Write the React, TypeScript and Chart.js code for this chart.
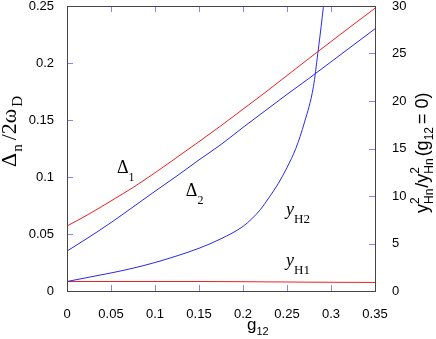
import { useEffect, useRef } from 'react';
import { Chart, registerables } from 'chart.js';

Chart.register(...registerables);

// g12 grid for the gap curves
const gGrid = [0, 0.025, 0.05, 0.075, 0.1, 0.125, 0.15, 0.175, 0.2, 0.225, 0.25, 0.275, 0.3, 0.325, 0.35];
// Δ1 / 2ωD (left axis)
const delta1 = [0.057, 0.0675, 0.079, 0.0908, 0.1037, 0.1173, 0.131, 0.145, 0.1595, 0.174, 0.189, 0.204, 0.2188, 0.2335, 0.248];
// Δ2 / 2ωD (left axis)
const delta2 = [0.035, 0.0472, 0.06, 0.0737, 0.0875, 0.101, 0.115, 0.1285, 0.1435, 0.158, 0.1725, 0.1865, 0.201, 0.2155, 0.23];
// y_H1 ratio (right axis)
const yH1 = [1.0, 1.0, 1.0, 1.0, 1.0, 1.0, 1.0, 0.99, 0.98, 0.96, 0.95, 0.93, 0.92, 0.91, 0.9];
// y_H2 ratio (right axis), denser grid near divergence
const gH2 = [0, 0.025, 0.05, 0.075, 0.1, 0.125, 0.15, 0.175, 0.2, 0.21, 0.22, 0.23, 0.24, 0.25, 0.26, 0.27, 0.28, 0.285, 0.29, 0.295];
const yH2 = [1.0, 1.45, 1.9, 2.4, 3.0, 3.7, 4.5, 5.5, 6.8, 7.6, 8.6, 9.9, 11.3, 13.0, 15.0, 17.8, 21.5, 25.0, 28.8, 33.0];

// axis ranges / ticks
const xMin = 0, xMax = 0.35, xStep = 0.05;
const yLeftMax = 0.25, yLeftStep = 0.05;
const yRightMax = 30, yRightStep = 5;

const RED = '#ee2020';
const BLUE = '#2828ee';
const SERIF = '"Liberation Serif", "DejaVu Serif", serif';
const SANS = '"Liberation Sans", Arial, sans-serif';

type Part = { text: string; font: string; dy?: number; gap?: number };

function drawRich(ctx: CanvasRenderingContext2D, x: number, y: number, rot: number, parts: Part[]) {
  ctx.save();
  ctx.translate(x, y);
  ctx.rotate(rot);
  ctx.fillStyle = '#000';
  ctx.textAlign = 'left';
  ctx.textBaseline = 'alphabetic';
  let cx = 0;
  for (const p of parts) {
    ctx.font = p.font;
    ctx.fillText(p.text, cx, p.dy || 0);
    cx += ctx.measureText(p.text).width + (p.gap || 0);
  }
  ctx.restore();
}

const decorPlugin = {
  id: 'decor',
  afterDraw(chart: any) {
    const ctx: CanvasRenderingContext2D = chart.ctx;
    const { left, right, top, bottom } = chart.chartArea;
    const xs = chart.scales.x, yl = chart.scales.y, yr = chart.scales.y2;
    ctx.save();
    // inward ticks
    ctx.strokeStyle = 'rgba(110,110,240,0.85)';
    ctx.lineWidth = 1;
    ctx.beginPath();
    const tl = 6;
    for (let v = xStep; v < xMax - 1e-9; v += xStep) {
      const px = Math.round(xs.getPixelForValue(v)) + 0.5;
      ctx.moveTo(px, bottom); ctx.lineTo(px, bottom - tl);
      ctx.moveTo(px, top); ctx.lineTo(px, top + tl);
    }
    for (let v = yLeftStep; v < yLeftMax - 1e-9; v += yLeftStep) {
      const py = Math.round(yl.getPixelForValue(v)) + 0.5;
      ctx.moveTo(left, py); ctx.lineTo(left + tl, py);
    }
    for (let v = yRightStep; v < yRightMax - 1e-9; v += yRightStep) {
      const py = Math.round(yr.getPixelForValue(v)) + 0.5;
      ctx.moveTo(right, py); ctx.lineTo(right - tl, py);
    }
    ctx.stroke();
    // frame
    ctx.strokeStyle = '#444';
    ctx.strokeRect(Math.round(left) + 0.5, Math.round(top) + 0.5, Math.round(right - left), Math.round(bottom - top));
    ctx.restore();

    // axis titles
    drawRich(ctx, 16, 167, -Math.PI / 2, [
      { text: 'Δ', font: `22px ${SERIF}`, gap: 1 },
      { text: 'n', font: `15px ${SERIF}`, dy: 6, gap: 4 },
      { text: '/2ω', font: `22px ${SERIF}`, gap: 2 },
      { text: 'D', font: `15px ${SERIF}`, dy: 6 },
    ]);
    drawRich(ctx, 428, 213, -Math.PI / 2, [
      { text: 'y', font: `18px ${SANS}` },
      { text: '2', font: `12px ${SANS}`, dy: -9, gap: -6.7 },
      { text: 'Hn', font: `12px ${SANS}`, dy: 5, gap: 1 },
      { text: '/', font: `18px ${SANS}` },
      { text: 'y', font: `18px ${SANS}` },
      { text: '2', font: `12px ${SANS}`, dy: -9, gap: -6.7 },
      { text: 'Hn', font: `12px ${SANS}`, dy: 5, gap: 2 },
      { text: '(g', font: `18px ${SANS}` },
      { text: '12', font: `12px ${SANS}`, dy: 5, gap: 3 },
      { text: '= 0)', font: `18px ${SANS}` },
    ]);
    drawRich(ctx, 247, 330, 0, [
      { text: 'g', font: `17px ${SANS}` },
      { text: '12', font: `11px ${SANS}`, dy: 5 },
    ]);

    // curve labels (anchored in data coordinates)
    const lbl = (g: number, v: number, axis: any, parts: Part[]) =>
      drawRich(ctx, xs.getPixelForValue(g), axis.getPixelForValue(v), 0, parts);
    lbl(0.0568, 0.1038, yl, [
      { text: 'Δ', font: `18px ${SERIF}` },
      { text: '1', font: `12px ${SERIF}`, dy: 8 },
    ]);
    lbl(0.135, 0.083, yl, [
      { text: 'Δ', font: `18px ${SERIF}` },
      { text: '2', font: `12px ${SERIF}`, dy: 8 },
    ]);
    lbl(0.249, 8.0, yr, [
      { text: 'y', font: `italic 18px ${SERIF}` },
      { text: 'H2', font: `13px ${SERIF}`, dy: 8 },
    ]);
    lbl(0.249, 2.6, yr, [
      { text: 'y', font: `italic 18px ${SERIF}` },
      { text: 'H1', font: `13px ${SERIF}`, dy: 8 },
    ]);
  },
};

const fmt = (v: any) => String(Number(Number(v).toFixed(2)));

export default function App() {
  const ref = useRef<HTMLCanvasElement | null>(null);
  useEffect(() => {
    if (!ref.current) return;
    const pts = (xs: number[], ys: number[]) => xs.map((x, i) => ({ x, y: ys[i] }));
    const chart = new Chart(ref.current, {
      type: 'line',
      data: {
        datasets: [
          { label: 'Δ1', data: pts(gGrid, delta1), borderColor: RED, yAxisID: 'y' },
          { label: 'Δ2', data: pts(gGrid, delta2), borderColor: BLUE, yAxisID: 'y' },
          { label: 'yH2', data: pts(gH2, yH2), borderColor: BLUE, yAxisID: 'y2' },
          { label: 'yH1', data: pts(gGrid, yH1), borderColor: RED, yAxisID: 'y2' },
        ].map((d) => ({
          ...d,
          borderWidth: 1,
          pointRadius: 0,
          fill: false,
          cubicInterpolationMode: 'monotone' as const,
        })),
      },
      options: {
        animation: false,
        responsive: true,
        maintainAspectRatio: false,
        layout: { padding: { top: 6, left: 0, right: 0, bottom: 0 } },
        plugins: { legend: { display: false }, tooltip: { enabled: false } },
        scales: {
          x: {
            type: 'linear',
            min: xMin,
            max: xMax,
            grid: { display: false },
            border: { display: false },
            ticks: {
              stepSize: xStep,
              padding: 8,
              color: '#000',
              font: { family: SANS, size: 13 },
              maxRotation: 0,
              callback: fmt,
            },
            afterFit: (s: any) => {
              s.height = 48;
              s.paddingLeft = 0; s.paddingRight = 0;
            },
          },
          y: {
            type: 'linear',
            position: 'left',
            min: 0,
            max: yLeftMax,
            grid: { display: false },
            border: { display: false },
            ticks: {
              stepSize: yLeftStep,
              padding: 5,
              color: '#000',
              font: { family: SANS, size: 13 },
              callback: fmt,
            },
            afterFit: (s: any) => {
              s.width = 67;
              s.paddingTop = 0; s.paddingBottom = 0;
            },
          },
          y2: {
            type: 'linear',
            position: 'right',
            min: 0,
            max: yRightMax,
            grid: { display: false },
            border: { display: false },
            ticks: {
              stepSize: yRightStep,
              padding: 9,
              color: '#000',
              font: { family: SANS, size: 13 },
              callback: fmt,
            },
            afterFit: (s: any) => {
              s.width = 61;
              s.paddingTop = 0; s.paddingBottom = 0;
            },
          },
        },
      },
      plugins: [decorPlugin],
    });
    return () => chart.destroy();
  }, []);
  return (
    <div style={{ position: 'absolute', left: 0, top: 0, width: 436, height: 339, background: '#fff' }}>
      <canvas ref={ref} />
    </div>
  );
}
